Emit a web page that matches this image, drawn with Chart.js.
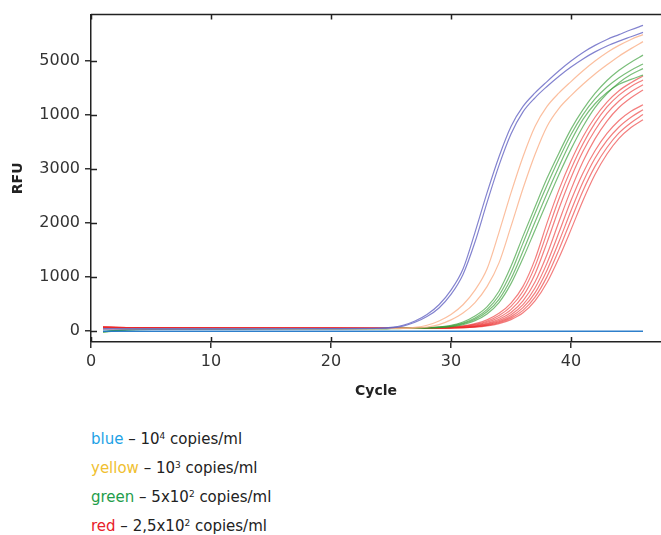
<!DOCTYPE html>
<html>
<head>
<meta charset="utf-8">
<script src="https://cdn.jsdelivr.net/npm/chart.js@4"></script>
<style>
  body { margin: 0; background: #fff; font-family: "DejaVu Sans", sans-serif; }
  #wrap { position: relative; width: 661px; height: 535px; }
  #chart { position: absolute; left: 0; top: 0; }
  #legend { position: absolute; left: 91px; top: 425px; font-size: 15px; line-height: 29px; color: #222; }
  #legend sup { font-size: 9px; vertical-align: 5px; line-height: 0; }
</style>
</head>
<body>
<div id="wrap">
  <canvas id="chart" width="661" height="410"></canvas>
  <div id="legend">
    <div><span style="color:#1ea2e6">blue</span> – 10<sup>4</sup> copies/ml</div>
    <div><span style="color:#f0c030">yellow</span> – 10<sup>3</sup> copies/ml</div>
    <div><span style="color:#1f9d4b">green</span> – 5x10<sup>2</sup> copies/ml</div>
    <div><span style="color:#e8202a">red</span> – 2,5x10<sup>2</sup> copies/ml</div>
  </div>
</div>
<script>
// cycles where the curves were read
const cycles = [1, 3, 8, 14, 20, 24, 25, 26, 27, 28, 29, 30, 31, 32, 33, 34, 35, 36, 37, 38, 39, 40, 41, 42, 43, 44, 45, 46];

// RFU per curve
const blue1 = [45, 45, 44, 45, 48, 55, 70, 110, 190, 310, 490, 760, 1150, 1830, 2560, 3230, 3790, 4160, 4410, 4620, 4820, 5000, 5160, 5290, 5400, 5490, 5580, 5660];
const blue2 = [42, 43, 43, 44, 46, 50, 62, 95, 165, 270, 430, 680, 1050, 1650, 2380, 3070, 3650, 4060, 4320, 4530, 4720, 4890, 5040, 5170, 5280, 5370, 5450, 5530];
const yellow1 = [40, 45, 48, 50, 50, 50, 52, 55, 70, 110, 190, 310, 490, 760, 1150, 1830, 2560, 3230, 3790, 4160, 4410, 4620, 4820, 5000, 5160, 5290, 5400, 5490];
const yellow2 = [40, 44, 47, 49, 49, 49, 50, 52, 56, 76, 122, 210, 335, 530, 825, 1265, 1940, 2640, 3270, 3790, 4125, 4360, 4570, 4760, 4930, 5090, 5230, 5360];
const green1 = [-15, 25, 42, 45, 47, 50, 52, 55, 58, 65, 80, 110, 170, 280, 450, 740, 1200, 1760, 2300, 2830, 3300, 3740, 4100, 4400, 4640, 4830, 4980, 5110];
const green2 = [-10, 28, 42, 45, 46, 48, 50, 52, 56, 62, 75, 100, 150, 245, 400, 660, 1080, 1630, 2180, 2700, 3190, 3640, 4010, 4300, 4520, 4690, 4830, 4945];
const green3 = [-20, 22, 40, 44, 46, 48, 50, 52, 55, 60, 70, 90, 135, 220, 360, 590, 970, 1480, 2020, 2550, 3050, 3520, 3920, 4210, 4420, 4570, 4660, 4740];
const green4 = [-5, 30, 43, 45, 46, 45, 47, 50, 53, 58, 66, 84, 120, 195, 320, 530, 880, 1350, 1870, 2390, 2900, 3370, 3790, 4140, 4400, 4600, 4750, 4860];
const red1 = [80, 68, 62, 60, 57, 55, 55, 56, 58, 62, 68, 80, 100, 140, 210, 330, 520, 830, 1330, 2000, 2620, 3150, 3600, 3960, 4240, 4450, 4600, 4725];
const red2 = [78, 67, 61, 59, 57, 55, 55, 56, 57, 60, 65, 75, 92, 125, 185, 290, 460, 740, 1200, 1820, 2450, 3000, 3470, 3850, 4150, 4370, 4530, 4650];
const red3 = [76, 66, 60, 58, 56, 54, 54, 55, 56, 58, 62, 70, 85, 112, 165, 255, 400, 650, 1060, 1640, 2270, 2840, 3330, 3720, 4030, 4260, 4430, 4560];
const red4 = [74, 65, 60, 58, 56, 54, 54, 54, 55, 57, 60, 66, 78, 100, 145, 220, 345, 560, 910, 1420, 2030, 2620, 3140, 3560, 3890, 4140, 4320, 4465];
const red5 = [72, 64, 59, 57, 55, 53, 53, 54, 55, 56, 58, 63, 73, 92, 130, 195, 305, 490, 800, 1260, 1830, 2420, 2930, 3340, 3660, 3900, 4070, 4190];
const red6 = [70, 63, 58, 56, 55, 53, 53, 53, 54, 55, 57, 61, 69, 85, 118, 175, 270, 435, 710, 1130, 1660, 2230, 2760, 3200, 3530, 3780, 3960, 4100];
const red7 = [68, 62, 58, 56, 54, 52, 52, 52, 53, 54, 56, 59, 66, 80, 108, 158, 242, 385, 630, 1010, 1510, 2060, 2600, 3050, 3400, 3670, 3860, 4010];
const red8 = [66, 61, 57, 55, 54, 52, 52, 52, 52, 53, 55, 58, 63, 75, 98, 140, 215, 340, 560, 900, 1360, 1880, 2420, 2900, 3280, 3570, 3770, 3915];
const baseline = [0, 0, 0, 0, 0, 0, 0, 0, 0, 0, 0, 0, 0, 0, 0, 0, 0, 0, 0, 0, 0, 0, 0, 0, 0, 0, 0, 0];

// axis ticks (labels as printed on the original)
const xTicks = [0, 10, 20, 30, 40];
const yTicks = [0, 1000, 2000, 3000, 4000, 5000];
const yTickLabels = ['0', '1000', '2000', '3000', '1000', '5000'];

const groups = [
  { color: 'rgba(35,120,200,0.95)', width: 1.4, series: [baseline] },
  { color: 'rgba(100,100,195,0.8)', width: 1.2, series: [blue1, blue2] },
  { color: 'rgba(250,175,135,0.8)', width: 1.2, series: [yellow1, yellow2] },
  { color: 'rgba(50,155,50,0.65)', width: 1.2, series: [green1, green2, green3, green4] },
  { color: 'rgba(235,40,40,0.6)', width: 1.2, series: [red1, red2, red3, red4, red5, red6, red7, red8] }
];

const datasets = [];
groups.forEach(g => {
  g.series.forEach(s => {
    datasets.push({
      data: s.map((v, i) => ({ x: cycles[i], y: v })),
      borderColor: g.color,
      borderWidth: g.width,
      pointRadius: 0,
      cubicInterpolationMode: 'monotone',
      fill: false
    });
  });
});

const tickFont = { family: 'DejaVu Sans', size: 16 };
const titleFont = { family: 'DejaVu Sans', size: 14, weight: 'bold' };

// inner tick marks and the top frame line
const frameTicks = {
  id: 'frameTicks',
  afterDraw(chart) {
    const { ctx, chartArea: a, scales } = chart;
    ctx.save();
    ctx.strokeStyle = '#222';
    ctx.lineWidth = 1.5;
    ctx.beginPath();
    ctx.moveTo(a.left, a.top);
    ctx.lineTo(a.right, a.top);
    xTicks.forEach(v => {
      const px = Math.round(scales.x.getPixelForValue(v)) + 0.5;
      ctx.moveTo(px, a.bottom);
      ctx.lineTo(px, a.bottom - 5);
      ctx.moveTo(px, a.top);
      ctx.lineTo(px, a.top + 5);
    });
    yTicks.forEach(v => {
      const py = Math.round(scales.y.getPixelForValue(v)) + 0.5;
      ctx.moveTo(a.left, py);
      ctx.lineTo(a.left + 6, py);
    });
    ctx.stroke();
    ctx.restore();
  }
};

new Chart(document.getElementById('chart').getContext('2d'), {
  type: 'line',
  data: { datasets: datasets },
  options: {
    responsive: false,
    animation: false,
    devicePixelRatio: 1,
    layout: { padding: { top: 10, right: 0, left: 0, bottom: 0 } },
    plugins: { legend: { display: false }, tooltip: { enabled: false } },
    scales: {
      x: {
        type: 'linear',
        min: 0,
        max: 47.5,
        afterBuildTicks: s => { s.ticks = xTicks.map(v => ({ value: v })); },
        afterFit: s => { s.height = 68; },
        grid: { drawOnChartArea: false, tickLength: 6, color: '#333', lineWidth: 1.5 },
        border: { color: '#222', width: 1.5 },
        ticks: { font: tickFont, color: '#333', padding: 4, maxRotation: 0 },
        title: { display: true, text: 'Cycle', font: titleFont, color: '#222', padding: { top: 8, bottom: 10 } }
      },
      y: {
        min: -200,
        max: 5860,
        afterBuildTicks: s => { s.ticks = yTicks.map(v => ({ value: v })); },
        afterFit: s => { s.width = 91; },
        grid: { drawOnChartArea: false, tickLength: 6, color: '#333', lineWidth: 1.5 },
        border: { color: '#222', width: 1.5 },
        ticks: { font: tickFont, color: '#333', padding: 5, callback: (v, i) => yTickLabels[i] },
        title: { display: true, text: 'RFU', font: titleFont, color: '#222', padding: { top: 10, bottom: 0 } }
      }
    }
  },
  plugins: [frameTicks]
});
</script>
</body>
</html>
